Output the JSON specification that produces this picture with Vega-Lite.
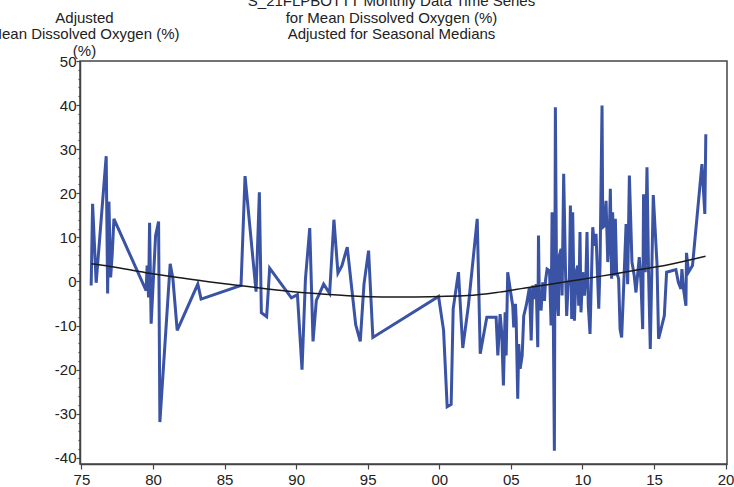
{
  "$schema": "https://vega.github.io/schema/vega-lite/v6.json",
  "width": 647,
  "height": 403,
  "autosize": {"type": "none"},
  "padding": {"left": 80, "top": 61, "right": 7, "bottom": 23},
  "background": "white",
  "config": {
    "font": "Liberation Sans",
    "view": {"stroke": "#444", "strokeWidth": 1.5},
    "axis": {"labelFont": "Liberation Sans", "titleFont": "Liberation Sans", "labelColor": "#222", "titleColor": "#222", "domainColor": "#444", "tickColor": "#444", "domainWidth": 1.5, "tickWidth": 1.2, "grid": false}
  },
  "title": {
    "text": ["S_21FLPBOTTT Monthly Data Time Series", "for Mean Dissolved Oxygen (%)", "Adjusted for Seasonal Medians"],
    "anchor": "middle", "frame": "group", "dx": -12, "offset": -44, "baseline": "alphabetic",
    "lineHeight": 16.5, "fontSize": 15, "fontWeight": "normal", "font": "Liberation Sans", "color": "#222"
  },
  "datasets": {
    "obs": [
      {"t": 1975.68, "v": -0.9}, {"t": 1975.78, "v": 17.6}, {"t": 1976.03, "v": -0.3}, {"t": 1976.73, "v": 28.4},
      {"t": 1976.83, "v": -2.7}, {"t": 1976.92, "v": 18.1}, {"t": 1977.04, "v": 0.9}, {"t": 1977.15, "v": 6.2},
      {"t": 1977.27, "v": 14.2}, {"t": 1979.52, "v": -2.1}, {"t": 1979.59, "v": 3.6}, {"t": 1979.69, "v": -3.6},
      {"t": 1979.76, "v": 13.3}, {"t": 1979.87, "v": -9.6}, {"t": 1980.18, "v": 10.4}, {"t": 1980.39, "v": 13.6},
      {"t": 1980.48, "v": -31.9}, {"t": 1981.2, "v": 4.0}, {"t": 1981.39, "v": 0.6}, {"t": 1981.69, "v": -11.1},
      {"t": 1983.13, "v": -0.6}, {"t": 1983.36, "v": -4.0}, {"t": 1986.15, "v": -0.9}, {"t": 1986.43, "v": 23.9},
      {"t": 1987.2, "v": -2.3}, {"t": 1987.43, "v": 20.2}, {"t": 1987.57, "v": -7.1}, {"t": 1987.94, "v": -8.0},
      {"t": 1988.15, "v": 3.0}, {"t": 1989.67, "v": -3.7}, {"t": 1990.09, "v": -3.0}, {"t": 1990.41, "v": -20.0},
      {"t": 1990.65, "v": 0.6}, {"t": 1990.95, "v": 12.1}, {"t": 1991.18, "v": -13.6}, {"t": 1991.41, "v": -4.3},
      {"t": 1991.6, "v": -3.0}, {"t": 1991.92, "v": -0.6}, {"t": 1992.34, "v": -2.7}, {"t": 1992.64, "v": 14.0},
      {"t": 1992.92, "v": 1.9}, {"t": 1993.2, "v": 3.6}, {"t": 1993.57, "v": 7.8}, {"t": 1994.16, "v": -9.8},
      {"t": 1994.48, "v": -13.6}, {"t": 1994.74, "v": -0.6}, {"t": 1995.06, "v": 7.0}, {"t": 1995.36, "v": -12.7},
      {"t": 1999.95, "v": -3.4}, {"t": 2000.3, "v": -11.1}, {"t": 2000.55, "v": -28.4}, {"t": 2000.83, "v": -27.9},
      {"t": 2000.97, "v": -6.2}, {"t": 2001.34, "v": 2.1}, {"t": 2001.64, "v": -15.1}, {"t": 2002.04, "v": -5.3},
      {"t": 2002.65, "v": 14.2}, {"t": 2002.86, "v": -16.4}, {"t": 2003.32, "v": -8.1}, {"t": 2003.97, "v": -8.1},
      {"t": 2004.09, "v": -16.8}, {"t": 2004.25, "v": -7.4}, {"t": 2004.36, "v": -11.5}, {"t": 2004.48, "v": -23.6},
      {"t": 2004.6, "v": -7.0}, {"t": 2004.67, "v": -16.8}, {"t": 2004.78, "v": 2.1}, {"t": 2005.02, "v": -3.2},
      {"t": 2005.13, "v": -5.5}, {"t": 2005.2, "v": -10.4}, {"t": 2005.32, "v": -5.1}, {"t": 2005.37, "v": -8.5},
      {"t": 2005.48, "v": -26.6}, {"t": 2005.55, "v": -14.2}, {"t": 2005.65, "v": -19.8}, {"t": 2005.79, "v": -16.8},
      {"t": 2005.9, "v": -7.8}, {"t": 2006.07, "v": -5.5}, {"t": 2006.18, "v": -3.6}, {"t": 2006.3, "v": -1.3},
      {"t": 2006.42, "v": -13.4}, {"t": 2006.53, "v": -0.9}, {"t": 2006.65, "v": -4.0}, {"t": 2006.77, "v": -0.6},
      {"t": 2006.88, "v": -14.9}, {"t": 2006.93, "v": 10.4}, {"t": 2007.0, "v": -6.2}, {"t": 2007.07, "v": -2.5},
      {"t": 2007.11, "v": -6.6}, {"t": 2007.23, "v": -0.2}, {"t": 2007.35, "v": -4.4}, {"t": 2007.42, "v": 0.2},
      {"t": 2007.53, "v": 2.8}, {"t": 2007.7, "v": 2.4}, {"t": 2007.81, "v": -10.0}, {"t": 2007.88, "v": 15.7},
      {"t": 2007.97, "v": -10.0}, {"t": 2008.04, "v": -38.4}, {"t": 2008.11, "v": 39.5}, {"t": 2008.2, "v": -3.2},
      {"t": 2008.32, "v": -7.8}, {"t": 2008.39, "v": 5.9}, {"t": 2008.51, "v": 7.4}, {"t": 2008.58, "v": -3.2},
      {"t": 2008.69, "v": 24.4}, {"t": 2008.81, "v": 3.6}, {"t": 2008.9, "v": -7.8}, {"t": 2009.0, "v": -0.9},
      {"t": 2009.09, "v": 0.6}, {"t": 2009.16, "v": 17.2}, {"t": 2009.25, "v": -8.5}, {"t": 2009.32, "v": 15.7},
      {"t": 2009.44, "v": -8.9}, {"t": 2009.56, "v": 2.1}, {"t": 2009.67, "v": 3.6}, {"t": 2009.74, "v": -5.5},
      {"t": 2009.83, "v": 11.2}, {"t": 2009.9, "v": -7.0}, {"t": 2010.02, "v": 2.1}, {"t": 2010.14, "v": -3.2},
      {"t": 2010.25, "v": 2.1}, {"t": 2010.32, "v": 11.2}, {"t": 2010.41, "v": -5.5}, {"t": 2010.53, "v": -11.9},
      {"t": 2010.72, "v": 12.3}, {"t": 2010.84, "v": 8.1}, {"t": 2010.95, "v": 10.8}, {"t": 2011.14, "v": -6.2},
      {"t": 2011.23, "v": 3.6}, {"t": 2011.37, "v": 39.9}, {"t": 2011.42, "v": 12.3}, {"t": 2011.53, "v": 12.6},
      {"t": 2011.65, "v": 18.3}, {"t": 2011.77, "v": 4.4}, {"t": 2011.88, "v": 10.4}, {"t": 2011.95, "v": 21.0},
      {"t": 2012.04, "v": 0.6}, {"t": 2012.11, "v": 15.7}, {"t": 2012.23, "v": 1.3}, {"t": 2012.3, "v": 14.2},
      {"t": 2012.39, "v": 2.1}, {"t": 2012.53, "v": 0.6}, {"t": 2012.63, "v": -10.8}, {"t": 2012.74, "v": -12.7},
      {"t": 2012.88, "v": -1.3}, {"t": 2013.05, "v": 13.0}, {"t": 2013.16, "v": -0.6}, {"t": 2013.28, "v": 24.0},
      {"t": 2013.46, "v": 4.4}, {"t": 2013.62, "v": 1.3}, {"t": 2013.74, "v": -2.5}, {"t": 2013.97, "v": 5.5},
      {"t": 2014.09, "v": -0.2}, {"t": 2014.21, "v": -10.8}, {"t": 2014.27, "v": 19.8}, {"t": 2014.39, "v": 2.1},
      {"t": 2014.51, "v": 25.9}, {"t": 2014.62, "v": 2.1}, {"t": 2014.74, "v": -15.3}, {"t": 2014.95, "v": 19.6},
      {"t": 2015.21, "v": 4.0}, {"t": 2015.32, "v": -13.0}, {"t": 2015.72, "v": -7.8}, {"t": 2015.88, "v": 2.1},
      {"t": 2016.53, "v": 2.7}, {"t": 2016.7, "v": -0.2}, {"t": 2016.88, "v": -1.7}, {"t": 2016.95, "v": 2.8},
      {"t": 2017.06, "v": -1.7}, {"t": 2017.23, "v": -5.5}, {"t": 2017.27, "v": 6.5}, {"t": 2017.41, "v": 2.1},
      {"t": 2017.69, "v": 3.6}, {"t": 2018.35, "v": 26.6}, {"t": 2018.55, "v": 15.3}, {"t": 2018.62, "v": 33.4}
    ],
    "smooth": [
      {"t": 1975.7, "v": 4.0}, {"t": 1977, "v": 3.4}, {"t": 1979.5, "v": 2.0}, {"t": 1981.5, "v": 1.0},
      {"t": 1984, "v": -0.1}, {"t": 1986, "v": -0.9}, {"t": 1988, "v": -1.7}, {"t": 1990, "v": -2.4},
      {"t": 1992, "v": -2.9}, {"t": 1994, "v": -3.3}, {"t": 1996, "v": -3.5}, {"t": 1998, "v": -3.5},
      {"t": 2000, "v": -3.4}, {"t": 2002, "v": -3.2}, {"t": 2004, "v": -2.5}, {"t": 2006, "v": -1.5},
      {"t": 2008, "v": -0.5}, {"t": 2010, "v": 0.5}, {"t": 2012, "v": 1.6}, {"t": 2014, "v": 2.7},
      {"t": 2016, "v": 3.8}, {"t": 2018.6, "v": 5.7}
    ]
  },
  "encoding": {
    "x": {
      "field": "t", "type": "quantitative",
      "scale": {"domain": [1974.9, 2020.1], "nice": false, "zero": false},
      "axis": {
        "title": null, "values": [1975, 1980, 1985, 1990, 1995, 2000, 2005, 2010, 2015, 2020],
        "labelExpr": "(datum.value % 100 < 10 ? '0' : '') + (datum.value % 100)",
        "labelFontSize": 15, "tickSize": 5, "labelPadding": 3, "labelFlush": false, "labelOverlap": false
      }
    },
    "y": {
      "field": "v", "type": "quantitative",
      "scale": {"domain": [-41.4, 50], "nice": false, "zero": false},
      "axis": {
        "title": ["Adjusted", "Mean Dissolved Oxygen (%)", "(%)"],
        "titleAngle": 0, "titleAlign": "center", "titleBaseline": "alphabetic",
        "titleX": 4, "titleY": -39, "titleFontSize": 15, "titleFontWeight": "normal", "titleLineHeight": 16.5,
        "values": [-40, -38, -36, -34, -32, -30, -28, -26, -24, -22, -20, -18, -16, -14, -12, -10, -8, -6, -4, -2, 0, 2, 4, 6, 8, 10, 12, 14, 16, 18, 20, 22, 24, 26, 28, 30, 32, 34, 36, 38, 40, 42, 44, 46, 48, 50],
        "labelExpr": "datum.value % 10 === 0 ? '' + datum.value : ''",
        "labelFontSize": 15, "labelPadding": 0, "labelOverlap": false, "labelFlush": false,
        "tickSize": {"condition": {"test": "datum.value % 10 === 0", "value": 4}, "value": 2}
      }
    }
  },
  "layer": [
    {"data": {"name": "obs"}, "mark": {"type": "line", "color": "#3A53A4", "strokeWidth": 3, "strokeJoin": "miter", "strokeMiterLimit": 4}},
    {"data": {"name": "smooth"}, "mark": {"type": "line", "color": "#1a1a1a", "strokeWidth": 1.5, "interpolate": "monotone"}}
  ]
}
